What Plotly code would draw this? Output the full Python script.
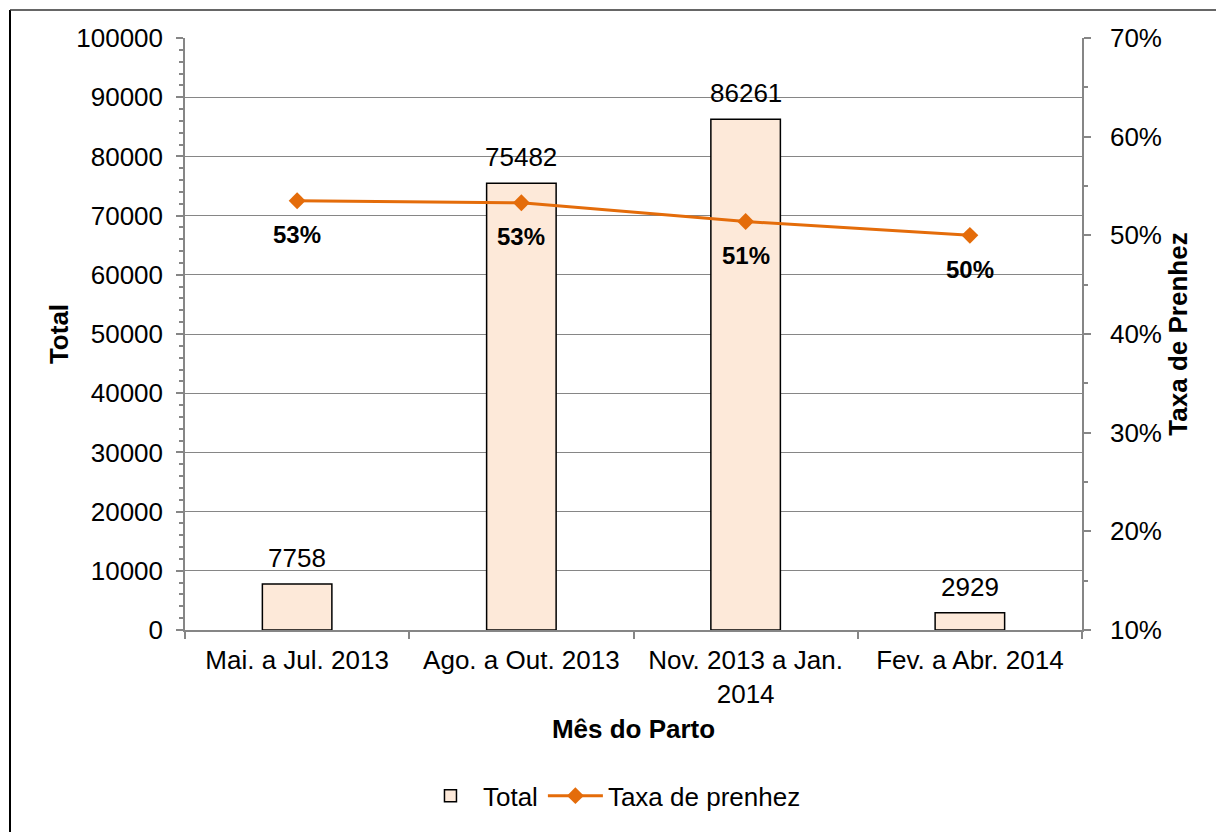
import plotly.graph_objects as go

categories = ["Mai. a Jul. 2013", "Ago. a Out. 2013", "Nov. 2013 a Jan.<br>2014", "Fev. a Abr. 2014"]
totals = [7758, 75482, 86261, 2929]
taxa = [0.535, 0.533, 0.514, 0.500]
taxa_labels = ["53%", "53%", "51%", "50%"]

FONT = "Liberation Sans, Arial, sans-serif"
GRID = "#868686"
ORANGE = "#E46C0A"
FS = 26

fig = go.Figure()
fig.add_trace(go.Bar(
    x=categories, y=totals, name="Total",
    marker=dict(color="#FDE9D9", line=dict(color="#000000", width=1.5)),
    yaxis="y",
))
fig.add_trace(go.Scatter(
    x=categories, y=taxa, name="Taxa de prenhez", mode="lines+markers",
    line=dict(color=ORANGE, width=3),
    marker=dict(symbol="diamond", size=13, color=ORANGE),
    yaxis="y2",
))

annotations = []
for c, v in zip(categories, totals):
    annotations.append(dict(x=c, y=v, xref="x", yref="y", text=str(v), showarrow=False,
                            yanchor="bottom", yshift=9, font=dict(size=FS, color="#000")))
for c, v, t in zip(categories, taxa, taxa_labels):
    annotations.append(dict(x=c, y=v, xref="x", yref="y2", text="<b>" + t + "</b>", showarrow=False,
                            yanchor="middle", yshift=-34, font=dict(size=24, color="#000")))

bx = (10 - 185) / 897
by = 1 + (38 - 10) / 592
shapes = [
    dict(type="line", xref="paper", yref="paper", x0=bx, x1=bx, y0=-0.5, y1=by,
         line=dict(color="#000000", width=2)),
    dict(type="line", xref="paper", yref="paper", x0=bx, x1=1.3, y0=by, y1=by,
         line=dict(color="#333333", width=1.5)),
]

fig.update_layout(
    width=1216, height=832,
    margin=dict(l=185, r=134, t=38, b=202, autoexpand=False),
    paper_bgcolor="white", plot_bgcolor="white",
    font=dict(family=FONT, size=FS, color="#000"),
    bargap=0.69,
    showlegend=True,
    legend=dict(orientation="h", x=0.476, xanchor="center", y=-0.28, yanchor="middle",
                font=dict(size=FS), itemwidth=55, traceorder="normal"),
    xaxis=dict(
        type="category", showline=True, linecolor=GRID, linewidth=1.5,
        ticks="outside", tickson="boundaries", ticklen=7, tickcolor=GRID, tickwidth=1.5,
        showgrid=False, ticklabelstandoff=6,
        title=dict(text="<b>Mês do Parto</b>", standoff=12, font=dict(size=FS)),
    ),
    yaxis=dict(
        range=[0, 100000], dtick=10000, tickformat="d",
        showline=True, linecolor=GRID, linewidth=1.5,
        ticks="outside", ticklen=7, tickcolor=GRID, tickwidth=1.5,
        showgrid=True, gridcolor=GRID, gridwidth=1,
        minor=dict(dtick=2000, ticks="outside", ticklen=4, tickcolor=GRID, showgrid=False),
        ticklabelstandoff=8,
        title=dict(text="<b>Total</b>", standoff=0, font=dict(size=FS)),
        zeroline=False,
    ),
    yaxis2=dict(
        overlaying="y", side="right", range=[0.1, 0.7], dtick=0.1, tickformat=".0%",
        showline=True, linecolor=GRID, linewidth=1.5,
        ticks="outside", ticklen=7, tickcolor=GRID, tickwidth=1.5,
        showgrid=False, zeroline=False,
        minor=dict(dtick=0.05, ticks="outside", ticklen=4, tickcolor=GRID, showgrid=False),
        ticklabelstandoff=14,
        title=dict(text="<b>Taxa de Prenhez</b>", standoff=8, font=dict(size=FS)),
    ),
    annotations=annotations,
    shapes=shapes,
)

fig.write_html("out.html", config={"displayModeBar": False},
               post_script="document.body.style.margin='0';")
